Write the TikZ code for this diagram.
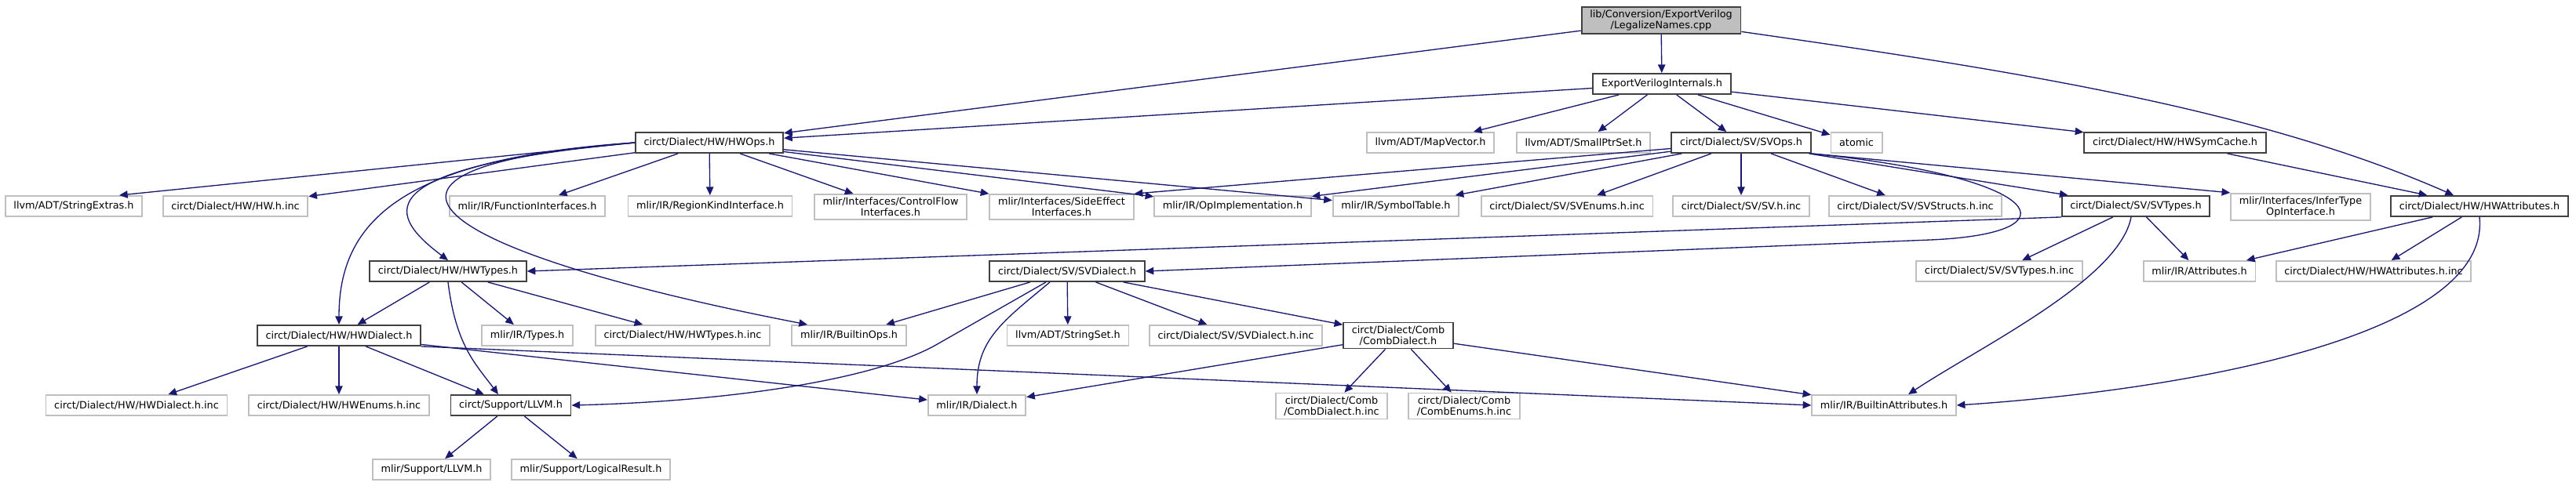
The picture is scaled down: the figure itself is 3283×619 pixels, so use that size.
\documentclass[tikz,border=0pt]{standalone}
\usepackage{fontspec}
\setmainfont{DejaVu Sans}
\usetikzlibrary{arrows.meta,calc}
\definecolor{edgeblue}{HTML}{191970}
\definecolor{greyborder}{HTML}{BFBFBF}
\definecolor{darkborder}{HTML}{404040}

\begin{document}
\begin{tikzpicture}[x=0.75pt, y=-0.75pt,
  docfile/.style={draw=darkborder, line width=1.4pt, fill=white, minimum height=19.5pt,
    inner xsep=8pt, inner ysep=3pt, align=center,
    font=\fontsize{9.6}{10.5}\selectfont},
  extfile/.style={docfile, draw=greyborder},
  srcfile/.style={docfile, fill=greyborder},
  incl/.style={draw=edgeblue, line width=1pt, -{Triangle[length=8pt,width=7pt]}}]
  \useasboundingbox (0,0) rectangle (3283,619);

  \node[srcfile] (cpp) at (2117,26) {lib/Conversion/ExportVerilog\\/LegalizeNames.cpp};
  \node[docfile] (evi) at (2118,107) {ExportVerilogInternals.h};

  \node[docfile] (hwops)    at (904,182)  {circt/Dialect/HW/HWOps.h};
  \node[extfile] (mapvec)   at (1823,182) {llvm/ADT/MapVector.h};
  \node[extfile] (smallptr) at (2018,182) {llvm/ADT/SmallPtrSet.h};
  \node[docfile] (svops)    at (2219,182) {circt/Dialect/SV/SVOps.h};
  \node[extfile] (atomic)   at (2366,182) {atomic};
  \node[docfile] (symcache) at (2772,182) {circt/Dialect/HW/HWSymCache.h};

  \node[extfile] (strext)    at (94,263)   {llvm/ADT/StringExtras.h};
  \node[extfile] (hwinc)     at (300,263)  {circt/Dialect/HW/HW.h.inc};
  \node[extfile] (funcif)    at (672,263)  {mlir/IR/FunctionInterfaces.h};
  \node[extfile] (regkind)   at (905,263)  {mlir/IR/RegionKindInterface.h};
  \node[extfile] (ctrlflow)  at (1135,264) {mlir/Interfaces/ControlFlow\\Interfaces.h};
  \node[extfile] (sideeff)   at (1353,264) {mlir/Interfaces/SideEffect\\Interfaces.h};
  \node[extfile] (opimpl)    at (1571,263) {mlir/IR/OpImplementation.h};
  \node[extfile] (symtab)    at (1779,263) {mlir/IR/SymbolTable.h};
  \node[extfile] (svenums)   at (1997,263) {circt/Dialect/SV/SVEnums.h.inc};
  \node[extfile] (svinc)     at (2219,263) {circt/Dialect/SV/SV.h.inc};
  \node[extfile] (svstructs) at (2441,263) {circt/Dialect/SV/SVStructs.h.inc};
  \node[docfile] (svtypes)   at (2722,263) {circt/Dialect/SV/SVTypes.h};
  \node[extfile] (infertype) at (2932,264) {mlir/Interfaces/InferType\\OpInterface.h};
  \node[docfile] (hwattr)    at (3160,263) {circt/Dialect/HW/HWAttributes.h};

  \node[docfile] (hwtypes)    at (571,346)  {circt/Dialect/HW/HWTypes.h};
  \node[docfile] (svdialect)  at (1360,346) {circt/Dialect/SV/SVDialect.h};
  \node[extfile] (svtypesinc) at (2548,346) {circt/Dialect/SV/SVTypes.h.inc};
  \node[extfile] (attrs)      at (2803,346) {mlir/IR/Attributes.h};
  \node[extfile] (hwattrinc)  at (3025,346) {circt/Dialect/HW/HWAttributes.h.inc};

  \node[docfile] (hwdialect)    at (432,428)  {circt/Dialect/HW/HWDialect.h};
  \node[extfile] (types)        at (672,428)  {mlir/IR/Types.h};
  \node[extfile] (hwtypesinc)   at (870,428)  {circt/Dialect/HW/HWTypes.h.inc};
  \node[extfile] (builtinops)   at (1082,428) {mlir/IR/BuiltinOps.h};
  \node[extfile] (stringset)    at (1361,428) {llvm/ADT/StringSet.h};
  \node[extfile] (svdialectinc) at (1575,428) {circt/Dialect/SV/SVDialect.h.inc};
  \node[docfile] (combdialect)  at (1782,428) {circt/Dialect/Comb\\/CombDialect.h};

  \node[extfile] (hwdialectinc)   at (174,517)  {circt/Dialect/HW/HWDialect.h.inc};
  \node[extfile] (hwenumsinc)     at (432,517)  {circt/Dialect/HW/HWEnums.h.inc};
  \node[docfile] (llvmh)          at (651,517)  {circt/Support/LLVM.h};
  \node[extfile] (dialect)        at (1245,517) {mlir/IR/Dialect.h};
  \node[extfile] (combdialectinc) at (1697,518) {circt/Dialect/Comb\\/CombDialect.h.inc};
  \node[extfile] (combenumsinc)   at (1866,518) {circt/Dialect/Comb\\/CombEnums.h.inc};
  \node[extfile] (builtinattr)    at (2401,517) {mlir/IR/BuiltinAttributes.h};

  \node[extfile] (mlirllvm) at (550,599) {mlir/Support/LLVM.h};
  \node[extfile] (logres)   at (753,599) {mlir/Support/LogicalResult.h};

  \draw[incl] (cpp) -- (evi);
  \draw[incl] (cpp) -- (hwops);
  \draw[incl] (cpp.-8) .. controls +(350,50) and +(-250,-110) .. ($(hwattr.north)+(-33,0)$);

  \draw[incl] (evi) -- (hwops);
  \draw[incl] (evi) -- (mapvec);
  \draw[incl] (evi) -- (smallptr);
  \draw[incl] (evi) -- (svops);
  \draw[incl] (evi) -- (atomic);
  \draw[incl] (evi) -- (symcache);

  \draw[incl] (hwops.west) -- ($(strext.north)+(58,0)$);
  \draw[incl] (hwops) -- (hwinc);
  \draw[incl] (hwops) -- (funcif);
  \draw[incl] (hwops) -- (regkind);
  \draw[incl] (hwops) -- (ctrlflow);
  \draw[incl] (hwops) -- (sideeff);
  \draw[incl] (hwops) -- (opimpl);
  \draw[incl] (hwops) -- (symtab);
  \draw[incl] (hwops.west) .. controls +(-360,33) and +(-70,-53) .. (hwtypes.north);
  \draw[incl] (hwops.west) .. controls +(-300,20) and +(0,-130) .. (hwdialect.north);
  \draw[incl] (hwops.west) .. controls +(-409,32) and +(-489,-95) .. ($(builtinops.north)+(-53,0)$);

  \draw[incl] (svops) -- (sideeff.north east);
  \draw[incl] (svops) -- (opimpl);
  \draw[incl] (svops) -- (symtab);
  \draw[incl] (svops) -- (svenums);
  \draw[incl] (svops) -- (svinc);
  \draw[incl] (svops) -- (svstructs);
  \draw[incl] (svops) -- (svtypes);
  \draw[incl] (svops.south east) -- (infertype.north west);
  \draw[incl] (svops.south east) .. controls +(300,30) and +(190,-8) .. (2460,306) -- (svdialect.east);

  \draw[incl] (symcache) -- (hwattr);

  \draw[incl] (svtypes) -- (svtypesinc);
  \draw[incl] (svtypes) -- (attrs);
  \draw[incl] ($(svtypes.south)+(-6,0)$) .. controls +(-15,80) and +(90,-60) .. ($(builtinattr.north)+(31,0)$);
  \draw[incl] (svtypes.south west) -- (hwtypes.east);

  \draw[incl] (hwattr) -- (attrs);
  \draw[incl] (hwattr) -- (hwattrinc);
  \draw[incl] (hwattr.south) .. controls +(15,150) and +(300,-20) .. (builtinattr.east);

  \draw[incl] (hwtypes) -- (hwdialect);
  \draw[incl] (hwtypes.south) .. controls +(10,80) and +(-30,-40) .. ($(llvmh.north)+(-16,0)$);
  \draw[incl] (hwtypes) -- (types);
  \draw[incl] (hwtypes) -- (hwtypesinc);

  \draw[incl] (svdialect) -- (builtinops);
  \draw[incl] ($(svdialect.south)+(-22,0)$) .. controls +(-60,50) and +(0,-70) .. (dialect.north);
  \draw[incl] ($(svdialect.south)+(-27,0)$) -- +(-140,80) .. controls +(-80,45) and +(200,-5) .. (llvmh.east);
  \draw[incl] (svdialect) -- (stringset);
  \draw[incl] (svdialect) -- (svdialectinc);
  \draw[incl] (svdialect) -- (combdialect);

  \draw[incl] (hwdialect) -- (hwdialectinc);
  \draw[incl] (hwdialect) -- (hwenumsinc);
  \draw[incl] (hwdialect) -- (llvmh);
  \draw[incl] (hwdialect.south east) -- (builtinattr.west);
  \draw[incl] (hwdialect) -- (dialect);

  \draw[incl] (combdialect) -- (combdialectinc);
  \draw[incl] (combdialect) -- (combenumsinc);
  \draw[incl] (combdialect) -- (builtinattr);
  \draw[incl] (combdialect) -- (dialect);

  \draw[incl] (llvmh) -- (mlirllvm);
  \draw[incl] (llvmh) -- (logres);
\end{tikzpicture}
\end{document}
